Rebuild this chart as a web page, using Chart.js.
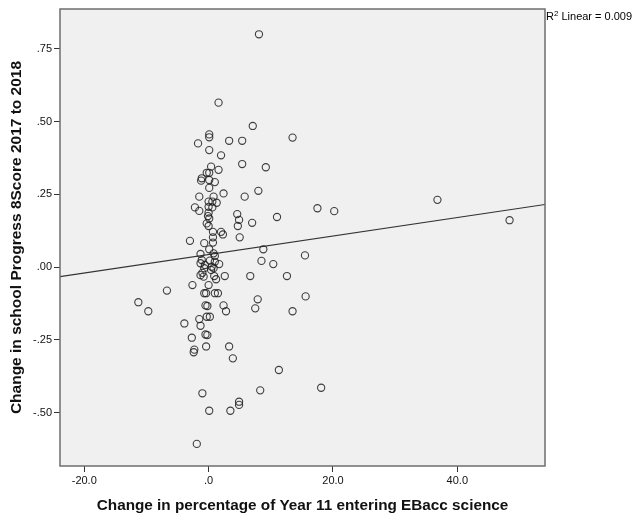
<!DOCTYPE html>
<html>
<head>
<meta charset="utf-8">
<script src="https://cdn.jsdelivr.net/npm/chart.js@4/dist/chart.umd.min.js"></script>
<style>
  body { margin: 0; background: #fff; }
  #wrap { width: 634px; height: 520px; }
</style>
</head>
<body>
<div id="wrap"><canvas id="scatter" width="634" height="520"></canvas></div>
<script>
var ebaccChange = [
  8.1,1.6,7.1,0.1,0.1,-1.7,3.3,5.4,13.5,0.1,2.0,5.4,9.2,0.4,1.6,-0.3,0.1,-1.1,-1.2,0.1,1.0,8.0,0.1,-1.5,0.8,2.4,5.8,
  0.0,0.6,1.3,-2.2,-1.5,0.0,0.6,0.0,-0.1,0.1,-0.3,0.0,4.6,4.9,4.7,7.0,17.5,20.2,11.0,0.7,0.7,0.7,2.0,2.3,5.0,-3.0,-0.7,0.1,8.8,36.8,48.4,
  0.8,1.0,-1.3,-1.1,-1.3,0.2,1.0,1.7,8.5,15.5,10.4,-0.6,0.5,-0.7,0.4,0.8,-1.3,-0.8,-1.0,0.9,1.2,2.6,6.7,12.6,-2.6,0.0,-0.7,-0.4,1.0,1.5,-6.7,7.9,15.6,
  -11.3,-9.7,-0.5,-0.2,2.4,2.8,7.5,13.5,-0.3,0.2,-1.5,-3.9,-1.3,-0.5,-0.2,-2.7,-0.4,3.3,-2.3,-2.4,3.9,11.3,-1.0,8.3,18.1,4.9,4.9,0.1,3.5,-1.9
];
var progress8Change = [
  .80,.565,.485,.456,.446,.425,.434,.434,.445,.402,.384,.354,.343,.345,.334,.324,.324,.305,.297,.299,.292,.262,.272,.242,.242,.253,.242,
  .225,.225,.221,.205,.193,.207,.205,.187,.175,.167,.150,.141,.182,.162,.141,.152,.202,.192,.172,.121,.102,.084,.121,.112,.102,.090,.082,.061,.061,.231,.161,
  .047,.038,.045,.024,.013,.022,.018,.010,.021,.040,.010,.007,.001,-.004,-.010,-.004,-.028,-.033,-.020,-.031,-.042,-.031,-.031,-.031,-.062,-.062,-.090,-.090,-.090,-.090,-.081,-.111,-.101,
  -.121,-.152,-.132,-.134,-.132,-.152,-.142,-.152,-.171,-.171,-.179,-.194,-.202,-.232,-.234,-.243,-.273,-.273,-.284,-.293,-.314,-.354,-.434,-.424,-.415,-.463,-.474,-.494,-.494,-.608
];

// fit line ends
var fitX = [-23.9, 54.1];
var fitY = [-0.033, 0.215];

var xTicks = [-20, 0, 20, 40];
var xTickLabels = ['-20.0', '.0', '20.0', '40.0'];
var yTicks = [-0.5, -0.25, 0, 0.25, 0.5, 0.75];
var yTickLabels = ['-.50', '-.25', '.00', '.25', '.50', '.75'];

var points = ebaccChange.map(function(x, i){ return {x: x, y: progress8Change[i]}; });
var fitPoints = fitX.map(function(x, i){ return {x: x, y: fitY[i]}; });

var frame = {
  id: 'frame',
  beforeDatasetsDraw: function(chart){
    var a = chart.chartArea, ctx = chart.ctx;
    ctx.save();
    ctx.fillStyle = '#f0f0f0';
    ctx.fillRect(a.left, a.top, a.right - a.left, a.bottom - a.top);
    ctx.restore();
  },
  afterDraw: function(chart){
    var a = chart.chartArea, ctx = chart.ctx;
    ctx.save();
    ctx.strokeStyle = '#6e6e6e';
    ctx.lineWidth = 1.5;
    ctx.strokeRect(a.left, a.top, a.right - a.left, a.bottom - a.top);
    // R2 note
    ctx.fillStyle = '#000';
    ctx.textBaseline = 'alphabetic';
    ctx.font = '11px "Liberation Sans", Arial, sans-serif';
    var x = a.right + 1, y = a.top + 11;
    ctx.fillText('R', x, y);
    x += ctx.measureText('R').width;
    ctx.font = '8px "Liberation Sans", Arial, sans-serif';
    ctx.fillText('2', x, y - 4);
    x += ctx.measureText('2').width;
    ctx.font = '11px "Liberation Sans", Arial, sans-serif';
    ctx.fillText(' Linear = 0.009', x, y);
    ctx.restore();
  }
};

var cxt = new Chart(document.getElementById('scatter'), {
  type: 'scatter',
  plugins: [frame],
  data: {
    datasets: [
      {
        label: 'schools',
        data: points,
        pointStyle: 'circle',
        pointRadius: 3.6,
        pointHoverRadius: 3.6,
        pointBorderWidth: 1.1,
        pointBackgroundColor: 'rgba(0,0,0,0)',
        pointBorderColor: 'rgba(30,30,30,0.85)'
      },
      {
        type: 'line',
        label: 'fit',
        data: fitPoints,
        showLine: true,
        pointRadius: 0,
        borderColor: '#333',
        borderWidth: 1.2,
        fill: false
      }
    ]
  },
  options: {
    responsive: false,
    animation: false,
    events: [],
    layout: { padding: { top: 9, right: 89, left: 0, bottom: 0 } },
    plugins: { legend: { display: false }, tooltip: { enabled: false } },
    scales: {
      x: {
        type: 'linear',
        min: -23.9,
        max: 54.1,
        afterBuildTicks: function(s){ s.ticks = xTicks.map(function(v){ return {value: v}; }); },
        afterFit: function(s){ s.height = 54; },
        grid: { drawOnChartArea: false, tickLength: 6, color: '#333' },
        border: { display: false },
        ticks: {
          padding: 2,
          maxRotation: 0,
          color: '#111',
          font: { family: '"Liberation Sans", Arial, sans-serif', size: 11 },
          callback: function(v, i){ return xTickLabels[i]; }
        },
        title: {
          display: true,
          text: 'Change in percentage of Year 11 entering EBacc science',
          color: '#111',
          padding: { top: 0, bottom: 5 },
          font: { family: '"Liberation Sans", Arial, sans-serif', size: 15.3, weight: 'bold' }
        }
      },
      y: {
        type: 'linear',
        min: -0.684,
        max: 0.887,
        afterBuildTicks: function(s){ s.ticks = yTicks.map(function(v){ return {value: v}; }); },
        afterFit: function(s){ s.width = 60; },
        grid: { drawOnChartArea: false, tickLength: 6, color: '#333' },
        border: { display: false },
        ticks: {
          padding: 2,
          color: '#111',
          font: { family: '"Liberation Sans", Arial, sans-serif', size: 11 },
          callback: function(v, i){ return yTickLabels[i]; }
        },
        title: {
          display: true,
          text: 'Change in school Progress 8Score 2017 to 2018',
          color: '#111',
          padding: { top: 7, bottom: 0 },
          font: { family: '"Liberation Sans", Arial, sans-serif', size: 15.5, weight: 'bold' }
        }
      }
    }
  }
});
</script>
</body>
</html>
